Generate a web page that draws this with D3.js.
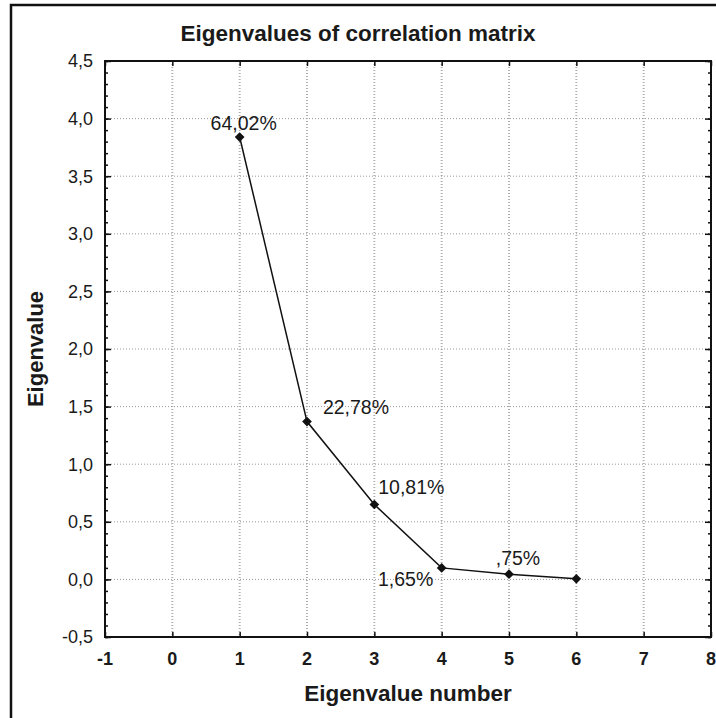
<!DOCTYPE html>
<html>
<head>
<meta charset="utf-8">
<script src="https://cdn.jsdelivr.net/npm/d3@7"></script>
<style>
  html, body { margin: 0; padding: 0; background: #fff; }
  svg { display: block; }
  text { font-family: "Liberation Sans", Arial, sans-serif; fill: #1a1a1a; }
</style>
</head>
<body>
<svg id="chart" width="716" height="718"></svg>
<script>
// ---- data ----
const eigenNumbers = [1, 2, 3, 4, 5, 6];
const eigenValues = [3.84, 1.37, 0.65, 0.10, 0.045, 0.005];
const pctLabels = ["64,02%", "22,78%", "10,81%", "1,65%", ",75%", ""];
const xTicks = [-1, 0, 1, 2, 3, 4, 5, 6, 7, 8];
const yTicks = [-0.5, 0, 0.5, 1, 1.5, 2, 2.5, 3, 3.5, 4, 4.5];
const titleText = "Eigenvalues of correlation matrix";
const xTitle = "Eigenvalue number";
const yTitle = "Eigenvalue";

// ---- layout ----
const svg = d3.select("#chart");
const L = 105, R = 711, T = 61, B = 637;
const x = d3.scaleLinear().domain([-1, 8]).range([L, R]);
const y = d3.scaleLinear().domain([-0.5, 4.5]).range([B, T]);
const fmt = v => d3.format(".1f")(v).replace(".", ",").replace("\u2212", "-");

// outer frame
svg.append("path")
  .attr("d", `M11,718 L11,5 L716,5`)
  .attr("fill", "none").attr("stroke", "#111").attr("stroke-width", 2.5);

// grid
const g = svg.append("g");
g.selectAll("line.gx").data(xTicks.filter(d => d > -1 && d < 8)).join("line")
  .attr("x1", d => x(d)).attr("x2", d => x(d)).attr("y1", T).attr("y2", B)
  .attr("stroke", "#b0b0b0").attr("stroke-width", 2).attr("stroke-dasharray", "1,2");
g.selectAll("line.gy").data(yTicks.filter(d => d > -0.5 && d < 4.5)).join("line")
  .attr("x1", L).attr("x2", R).attr("y1", d => y(d)).attr("y2", d => y(d))
  .attr("stroke", "#999").attr("stroke-width", 1).attr("stroke-dasharray", "1,2");

// axes with inward ticks
const minorY = d3.range(-0.5, 4.5001, 0.1);
const axL = svg.append("g").attr("transform", `translate(${L},0)`)
  .call(d3.axisRight(y).tickValues(minorY).tickSize(3).tickFormat(""));
const axR = svg.append("g").attr("transform", `translate(${R},0)`)
  .call(d3.axisLeft(y).tickValues(minorY).tickSize(3).tickFormat(""));
const axLM = svg.append("g").attr("transform", `translate(${L},0)`)
  .call(d3.axisRight(y).tickValues(yTicks).tickSize(6).tickFormat(""));
const axRM = svg.append("g").attr("transform", `translate(${R},0)`)
  .call(d3.axisLeft(y).tickValues(yTicks).tickSize(6).tickFormat(""));
const axB = svg.append("g").attr("transform", `translate(0,${B})`)
  .call(d3.axisTop(x).tickValues(xTicks).tickSize(5).tickFormat(""));
const axT = svg.append("g").attr("transform", `translate(0,${T})`)
  .call(d3.axisBottom(x).tickValues(xTicks).tickSize(5).tickFormat(""));
[axL, axR, axLM, axRM, axB, axT].forEach(a => {
  a.select(".domain").remove();
  a.selectAll("line").attr("stroke", "#111").attr("stroke-width", 1.5);
});

// plot frame
svg.append("rect").attr("x", L).attr("y", T).attr("width", R - L).attr("height", B - T)
  .attr("fill", "none").attr("stroke", "#111").attr("stroke-width", 2);

// tick labels
svg.append("g").selectAll("text").data(yTicks).join("text")
  .attr("x", L - 12).attr("y", d => y(d)).attr("dy", "0.35em")
  .attr("text-anchor", "end").attr("font-size", 18)
  .text(d => fmt(d));
svg.append("g").selectAll("text").data(xTicks).join("text")
  .attr("x", d => x(d)).attr("y", 659).attr("dy", "0.35em")
  .attr("text-anchor", "middle").attr("font-size", 18).attr("font-weight", "bold")
  .text(d => String(d));

// titles
svg.append("text").attr("x", 358).attr("y", 33).attr("dy", "0.35em")
  .attr("text-anchor", "middle").attr("font-size", 22.5).attr("font-weight", "bold")
  .text(titleText);
svg.append("text").attr("x", (L + R) / 2).attr("y", 693).attr("dy", "0.35em")
  .attr("text-anchor", "middle").attr("font-size", 22.5).attr("font-weight", "bold")
  .text(xTitle);
svg.append("text").attr("transform", `translate(35,${(T + B) / 2}) rotate(-90)`)
  .attr("dy", "0.35em").attr("text-anchor", "middle")
  .attr("font-size", 22).attr("font-weight", "bold")
  .text(yTitle);

// line + markers
const pts = eigenNumbers.map((n, i) => ({ n, v: eigenValues[i], lab: pctLabels[i] }));
svg.append("path").datum(pts)
  .attr("d", d3.line().x(d => x(d.n)).y(d => y(d.v)))
  .attr("fill", "none").attr("stroke", "#111").attr("stroke-width", 1.5);
svg.append("g").selectAll("path").data(pts).join("path")
  .attr("transform", d => `translate(${x(d.n)},${y(d.v)})`)
  .attr("d", d3.symbol(d3.symbolDiamond2, 60)())
  .attr("fill", "#111");

// percentage labels (offsets relative to the point)
const labOff = [[4, -14], [49, -14], [37, -17], [-36, 11], [9, -16], [0, 0]];
svg.append("g").selectAll("text").data(pts).join("text")
  .attr("x", (d, i) => x(d.n) + labOff[i][0])
  .attr("y", (d, i) => y(d.v) + labOff[i][1]).attr("dy", "0.35em")
  .attr("text-anchor", "middle").attr("font-size", 19.5)
  .text(d => d.lab);
</script>
</body>
</html>
